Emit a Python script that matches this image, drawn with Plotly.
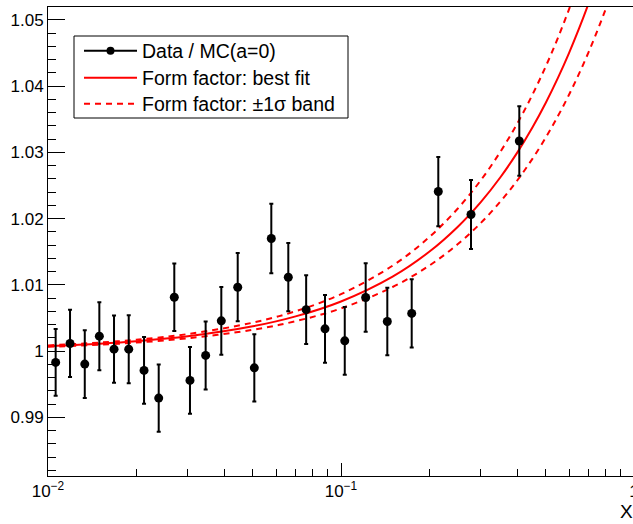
import plotly.graph_objects as go

# ---- data ----
x_data = [0.01062, 0.01189, 0.01335, 0.01497, 0.01680, 0.01886, 0.02127, 0.02387,
          0.02698, 0.03052, 0.03452, 0.03904, 0.04441, 0.05060, 0.05783, 0.06609,
          0.07605, 0.08819, 0.1030, 0.1214, 0.1439, 0.1743, 0.2148, 0.2778, 0.4060]
y_data = [0.99830, 1.00116, 0.99804, 1.00226, 1.00030, 1.00030, 0.99709, 0.99291,
          1.00814, 0.99558, 0.99935, 1.00457, 1.00965, 0.99748, 1.01700, 1.01116,
          1.00626, 1.00336, 1.00155, 1.00810, 1.00448, 1.00569, 1.02409, 1.02062, 1.03172]
y_err = [0.00505, 0.00508, 0.00510, 0.00513, 0.00508, 0.00513, 0.00505, 0.00508,
         0.00510, 0.00505, 0.00513, 0.00513, 0.00515, 0.00508, 0.00523, 0.00515,
         0.00518, 0.00510, 0.00513, 0.00516, 0.00510, 0.00515, 0.00523, 0.00520, 0.00523]

curve_x = [0.01, 0.015, 0.02, 0.03, 0.05, 0.07, 0.1, 0.15, 0.2, 0.25, 0.3, 0.35,
           0.4, 0.45, 0.5, 0.55, 0.6, 0.65, 0.7, 0.75, 0.8, 0.85, 0.9]
best_fit = [1.00075, 1.00113, 1.0015, 1.00225, 1.00375, 1.00525, 1.0075, 1.01125,
            1.0150, 1.01875, 1.0225, 1.02625, 1.0300, 1.03375, 1.0375, 1.04125,
            1.0450, 1.04875, 1.0525, 1.05625, 1.0600, 1.06375, 1.0675]
band_up = [1.00086, 1.00129, 1.00172, 1.00258, 1.0043, 1.00602, 1.0086, 1.0129,
           1.0172, 1.0215, 1.0258, 1.0301, 1.0344, 1.0387, 1.0430, 1.0473,
           1.0516, 1.0559, 1.0602, 1.0645, 1.0688, 1.0731, 1.0774]
band_lo = [1.00065, 1.00097, 1.00129, 1.00194, 1.00323, 1.00452, 1.00645, 1.00968,
           1.0129, 1.01613, 1.01935, 1.02258, 1.0258, 1.02903, 1.03225, 1.03548,
           1.0387, 1.04193, 1.04515, 1.04838, 1.0516, 1.05483, 1.05805]

y_ticks = [0.99, 1.0, 1.01, 1.02, 1.03, 1.04, 1.05]
y_ticktext = ["0.99", "1", "1.01", "1.02", "1.03", "1.04", "1.05"]
x_ticks = [0.01, 0.1, 1.0]
x_ticktext = ["10<sup>\u22122</sup>", "10<sup>\u22121</sup>", "1"]

FONT = "Liberation Sans, Arial, sans-serif"
dash = "6px,5px"

fig = go.Figure()

fig.add_trace(go.Scatter(x=curve_x, y=band_up, mode="lines", line_shape="spline",
                         line=dict(color="#ff0000", width=2, dash=dash),
                         name="Form factor: \u00b11\u03c3 band", legend="legend3"))
fig.add_trace(go.Scatter(x=curve_x, y=band_lo, mode="lines", line_shape="spline",
                         line=dict(color="#ff0000", width=2, dash=dash),
                         showlegend=False))
fig.add_trace(go.Scatter(x=curve_x, y=best_fit, mode="lines", line_shape="spline",
                         line=dict(color="#ff0000", width=2),
                         name="Form factor: best fit", legend="legend2"))
fig.add_trace(go.Scatter(x=x_data, y=y_data, mode="markers",
                         marker=dict(color="black", size=9),
                         error_y=dict(type="data", array=y_err, color="black",
                                      thickness=2, width=2),
                         showlegend=False))
fig.add_trace(go.Scatter(x=[None], y=[None], mode="lines+markers",
                         line=dict(color="black", width=2),
                         marker=dict(color="black", size=8),
                         name="Data / MC(a=0)", legend="legend"))

# figure is slightly wider than the 633 px window so the right frame edge is cut, as in the reference
L, R, T, B = 48, 0, 7, 48
W, H = 642, 524
pw, ph = W - L - R, H - T - B


def px_x(px):
    return (px - L) / pw


def px_y(py):
    return (T + ph - py) / ph


x_minor = [k * 10 ** e for e in (-2, -1) for k in range(2, 10)]
y_minor = [round(0.98 + 0.002 * i, 4) for i in range(0, 40)]
y_minor = [v for v in y_minor if 0.9805 <= v <= 1.052 and abs(round(v * 100) - v * 100) > 1e-6]

fig.update_xaxes(type="log", range=[-2, -2 + pw / 293.0], automargin=False,
                 showgrid=False, zeroline=False,
                 showline=True, linecolor="black", linewidth=1, mirror=True,
                 ticks="inside", ticklen=13, tickwidth=1, tickcolor="black",
                 tickvals=x_ticks, ticktext=x_ticktext,
                 tickfont=dict(family=FONT, size=17, color="black"),
                 minor=dict(tickvals=x_minor, ticks="inside", ticklen=7,
                            tickwidth=1, tickcolor="black", showgrid=False))
fig.update_yaxes(range=[0.98115, 1.05195], automargin=False,
                 showgrid=False, zeroline=False,
                 showline=True, linecolor="black", linewidth=1, mirror=False,
                 ticks="inside", ticklen=17, tickwidth=1, tickcolor="black",
                 tickvals=y_ticks, ticktext=y_ticktext,
                 tickfont=dict(family=FONT, size=17, color="black"),
                 minor=dict(tickvals=y_minor, ticks="inside", ticklen=8,
                            tickwidth=1, tickcolor="black", showgrid=False))

fig.add_annotation(text="X", xref="paper", yref="paper", x=px_x(635), y=px_y(512),
                   xanchor="right", yanchor="middle", showarrow=False,
                   font=dict(family=FONT, size=19, color="black"))

# legend frame
fig.add_shape(type="rect", xref="paper", yref="paper",
              x0=px_x(74), x1=px_x(348), y0=px_y(118), y1=px_y(36),
              line=dict(color="black", width=1), fillcolor="white", layer="below")

leg_common = dict(xanchor="left", yanchor="middle", bgcolor="rgba(0,0,0,0)",
                  borderwidth=0, font=dict(family=FONT, size=19.5, color="black"),
                  itemwidth=53)

fig.update_layout(
    template="none",
    width=W, height=H,
    margin=dict(l=L, r=R, t=T, b=B, autoexpand=False),
    paper_bgcolor="white", plot_bgcolor="rgba(0,0,0,0)",
    font=dict(family=FONT, color="black"),
    legend=dict(x=px_x(79), y=px_y(51), **leg_common),
    legend2=dict(x=px_x(79), y=px_y(78), **leg_common),
    legend3=dict(x=px_x(79), y=px_y(104), **leg_common),
    showlegend=True,
)

fig.write_html(
    "out.html",
    config={"displayModeBar": False},
    post_script="document.body.style.margin='0px';document.body.style.padding='0px';"
                "document.body.style.overflow='hidden';",
)
